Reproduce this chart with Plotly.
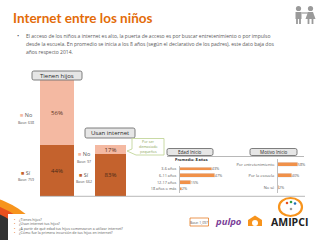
import plotly.graph_objects as go

W, H = 320, 240

# ---------------- data ----------------
hijos_cats = ["Tienen hijos"]
hijos_si = [44]
hijos_no = [56]
internet_cats = ["Usan internet"]
internet_si = [83]
internet_no = [17]
base_hijos_no, base_hijos_si = "638", "759"
base_int_no, base_int_si = "97", "662"

edad_labels = ["3-6 años", "6-11 años", "12-17 años", "18 años o más"]
edad_values = [43, 47, 15, 2]
motivo_labels = ["Por entretenimiento", "Por la escuela", "No sé"]
motivo_values = [58, 40, 2]

DARK = "#C4622D"
LIGHT = "#F4B9A2"
BARO = "#F0914A"
TXT = "#595959"
FONT = "Open Sans"


def px(x):
    return x / W


def py(y):
    return 1 - y / H


fig = go.Figure()

def stack(cats, si, no, xa, ya):
    fig.add_bar(x=cats, y=si, marker_color=DARK, width=1, marker_line_width=0,
                text=[f"{v}%" for v in si], textposition="inside", constraintext="none",
                insidetextanchor="middle", textfont=dict(size=6, color="#4a2a18", family=FONT),
                xaxis=xa, yaxis=ya, showlegend=False)
    fig.add_bar(x=cats, y=no, marker_color=LIGHT, width=1, marker_line_width=0,
                text=[f"{v}%" for v in no], textposition="inside", constraintext="none",
                insidetextanchor="middle", textfont=dict(size=6, color="#5a3020", family=FONT),
                xaxis=xa, yaxis=ya, showlegend=False)

stack(hijos_cats, hijos_si, hijos_no, "x", "y")
stack(internet_cats, internet_si, internet_no, "x2", "y2")

# edad inicio
fig.add_bar(y=edad_labels, x=edad_values, orientation="h", marker_color=BARO, width=0.55,
            text=[f"{v}%" for v in edad_values], textposition="outside", cliponaxis=False,
            constraintext="none", textfont=dict(size=3.8, color=TXT, family=FONT),
            xaxis="x3", yaxis="y3", showlegend=False)
# motivo inicio
fig.add_bar(y=motivo_labels, x=motivo_values, orientation="h", marker_color=BARO, width=0.38,
            text=[f"{v}%" for v in motivo_values], textposition="outside", cliponaxis=False,
            constraintext="none", textfont=dict(size=3.8, color=TXT, family=FONT),
            xaxis="x4", yaxis="y4", showlegend=False)

hid = dict(visible=False, fixedrange=True)
fig.update_layout(
    width=W, height=H, margin=dict(l=0, r=0, t=0, b=0),
    paper_bgcolor="white", plot_bgcolor="rgba(0,0,0,0)",
    barmode="stack", bargap=0,
    font=dict(family=FONT, color=TXT),
    xaxis=dict(domain=[px(40), px(74)], anchor="y", **hid),
    yaxis=dict(domain=[py(196), py(80)], range=[0, 100], anchor="x", **hid),
    xaxis2=dict(domain=[px(95), px(126)], anchor="y2", **hid),
    yaxis2=dict(domain=[py(196), py(145)], range=[0, 100], anchor="x2", **hid),
    xaxis3=dict(domain=[px(180), px(255)], range=[0, 100], anchor="y3", visible=False),
    yaxis3=dict(domain=[py(192.5), py(165.5)], anchor="x3", autorange="reversed", showline=True,
                linecolor="#bfbfbf", linewidth=0.8, ticks="", showgrid=False,
                tickfont=dict(size=3.8, color=TXT, family=FONT), ticklabelstandoff=2),
    xaxis4=dict(domain=[px(278), px(312.5)], range=[0, 100], anchor="y4", visible=False),
    yaxis4=dict(domain=[py(193), py(158.5)], anchor="x4", autorange="reversed", showline=True,
                linecolor="#bfbfbf", linewidth=0.8, ticks="", showgrid=False,
                tickfont=dict(size=4, color=TXT, family=FONT), ticklabelstandoff=2),
)

shapes = []
ann = []


def rrect(x0, y0, x1, y1, r):
    p = [f"M{px(x0 + r)},{py(y0)}", f"L{px(x1 - r)},{py(y0)}",
         f"Q{px(x1)},{py(y0)} {px(x1)},{py(y0 + r)}", f"L{px(x1)},{py(y1 - r)}",
         f"Q{px(x1)},{py(y1)} {px(x1 - r)},{py(y1)}", f"L{px(x0 + r)},{py(y1)}",
         f"Q{px(x0)},{py(y1)} {px(x0)},{py(y1 - r)}", f"L{px(x0)},{py(y0 + r)}",
         f"Q{px(x0)},{py(y0)} {px(x0 + r)},{py(y0)}", "Z"]
    return " ".join(p)


def text(x, y, s, size=5, color=TXT, xanchor="left", bold=False, family=FONT):
    if bold:
        s = f"<b>{s}</b>"
    ann.append(dict(x=px(x), y=py(y), xref="paper", yref="paper", text=s, showarrow=False,
                    xanchor=xanchor, yanchor="middle", font=dict(size=size, color=color, family=family)))


def button(x0, y0, x1, y1, label, size=6):
    shapes.append(dict(type="path", path=rrect(x0, y0, x1, y1, 1.8), xref="paper", yref="paper",
                       fillcolor="#e6e6e6", line=dict(color="#707070", width=0.9)))
    text((x0 + x1) / 2, (y0 + y1) / 2 + 0.3, label, size=size, color="#262626", xanchor="center")


# title + bullets
text(11, 18, "Internet entre los niños", size=13.5, color="#E36C0A", bold=True, family="Lato")
text(15, 36, "•", size=6, color=TXT)
lines = ["El acceso de los niños a internet es alto, la puerta de acceso es por buscar entretenimiento o por impulso",
         "desde la escuela. En promedio se inicia a los 8 años (según el declarativo de los padres), este dato baja dos",
         "años respecto 2014."]
for i, l in enumerate(lines):
    text(24, 36 + i * 8, l, size=5.0, color=TXT)

# kids icon
for cx, cy in [(298.5, 8.5), (310.5, 8.5)]:
    shapes.append(dict(type="circle", xref="paper", yref="paper", x0=px(cx - 2.6), x1=px(cx + 2.6),
                       y0=py(cy + 2.6), y1=py(cy - 2.6), fillcolor="#9a9a9a", line_width=0))
shapes.append(dict(type="rect", xref="paper", yref="paper", x0=px(295.5), x1=px(301.5), y0=py(19), y1=py(12),
                   fillcolor="#9a9a9a", line_width=0))
shapes.append(dict(type="path", xref="paper", yref="paper",
                   path=f"M{px(308)},{py(12)} L{px(313)},{py(12)} L{px(315.5)},{py(19)} L{px(305.5)},{py(19)} Z",
                   fillcolor="#9a9a9a", line_width=0))
for lx in [297, 300, 308.5, 312.5]:
    shapes.append(dict(type="rect", xref="paper", yref="paper", x0=px(lx - 0.9), x1=px(lx + 0.9),
                       y0=py(24), y1=py(18.5), fillcolor="#9a9a9a", line_width=0))
shapes.append(dict(type="line", xref="paper", yref="paper", x0=px(301.5), x1=px(308), y0=py(13), y1=py(13),
                   line=dict(color="#9a9a9a", width=1.2)))

# buttons
button(32, 71, 82, 80, "Tienen hijos")
button(85, 128, 135, 138, "Usan internet")
button(167, 148.5, 213, 155.5, "Edad Inicio", size=4.6)
button(250, 148.5, 297, 155.5, "Motivo Inicio", size=4.6)
shapes.append(dict(type="line", xref="paper", yref="paper", x0=px(167), x1=px(304), y0=py(156.5), y1=py(156.5),
                   line=dict(color="#a6a6a6", width=0.8)))
# baseline
shapes.append(dict(type="line", xref="paper", yref="paper", x0=px(40), x1=px(305), y0=py(196.3), y1=py(196.3),
                   line=dict(color="#a6a6a6", width=0.8)))

# callout
shapes.append(dict(type="path", xref="paper", yref="paper",
                   path=(f"M{px(132)},{py(138.5)} L{px(164)},{py(138.5)} L{px(164)},{py(155)} "
                         f"L{px(136)},{py(155)} L{px(127)},{py(151)} L{px(132)},{py(149)} Z"),
                   fillcolor="white", line=dict(color="#c3d69b", width=0.9)))
text(148, 141.8, "Por ser", size=3.6, color="#8aa55a", xanchor="center")
text(148, 146.5, "demasiado", size=3.6, color="#8aa55a", xanchor="center")
text(148, 151.2, "pequeños", size=3.6, color="#8aa55a", xanchor="center")

text(191, 159.5, "Promedio: 8 años", size=3.8, color="#262626", xanchor="center", bold=True)

# legend labels
def leg(x, y, lab, base, color):
    text(x, y, f"<span style='color:{color}'>■</span> {lab}", size=5.5, color=TXT, xanchor="center")
    text(x, y + 7, f"Base: {base}", size=3.6, color=TXT, xanchor="center")

leg(26, 115, "No", base_hijos_no, LIGHT)
leg(26, 172.5, "Sí", base_hijos_si, DARK)
leg(84, 154, "No", base_int_no, LIGHT)
leg(84, 174.5, "Sí", base_int_si, DARK)

# bottom-left swoosh
for r, c in [(82, "#F7941D"), (75, "#E8501F"), (68, "#333333")]:
    shapes.append(dict(type="circle", xref="paper", yref="paper", x0=px(-27 - r), x1=px(-27 + r),
                       y0=py(277 + r), y1=py(277 - r), fillcolor=c, line_width=0))
shapes.append(dict(type="rect", xref="paper", yref="paper", x0=px(8), x1=px(150), y0=py(241), y1=py(214),
                   fillcolor="white", line_width=0))
qs = ["¿Tienes hijos?", "¿Usan internet tus hijos?",
      "¿A partir de qué edad tus hijos comenzaron a utilizar internet?",
      "¿Cómo fue la primera incursión de tus hijos en internet?"]
for i, q in enumerate(qs):
    text(12, 219 + i * 4.5, "•", size=3.5, color="#E36C0A")
    text(17, 219 + i * 4.5, q, size=3.6, color=TXT)

# base box
shapes.append(dict(type="rect", xref="paper", yref="paper", x0=px(190), x1=px(208.5), y0=py(226), y1=py(218),
                   fillcolor="white", line=dict(color="#E36C0A", width=0.7)))
text(199.2, 222, "Base: 1,097", size=3.4, color=TXT, xanchor="center")

# logos
text(228, 221.5, "<i>pulpo</i>", size=9.5, color="#7B3F98", xanchor="center", bold=True)
shapes.append(dict(type="path", xref="paper", yref="paper",
                   path=f"M{px(248)},{py(226)} L{px(248)},{py(220)} L{px(255)},{py(215.5)} L{px(262)},{py(220)} L{px(262)},{py(226)} Z",
                   fillcolor="#F7941D", line_width=0))
shapes.append(dict(type="circle", xref="paper", yref="paper", x0=px(252), x1=px(258), y0=py(226), y1=py(220),
                   fillcolor="white", line_width=0))
text(289.5, 222, "AMIPCI", size=10.5, color="#222222", xanchor="center", bold=True)
shapes.append(dict(type="circle", xref="paper", yref="paper", x0=px(279), x1=px(302), y0=py(216), y1=py(198),
                   fillcolor="white", line=dict(color="#F7941D", width=2.2)))
for (dx, dy, c) in [(287, 203, "#E8501F"), (291, 202, "#2E9E45"), (295, 203.5, "#1F6FB5"), (291, 209, "#9a9a9a")]:
    shapes.append(dict(type="circle", xref="paper", yref="paper", x0=px(dx - 1.3), x1=px(dx + 1.3),
                       y0=py(dy + 1.3), y1=py(dy - 1.3), fillcolor=c, line_width=0))

fig.update_layout(shapes=shapes, annotations=ann)
fig.write_html("out.html")
